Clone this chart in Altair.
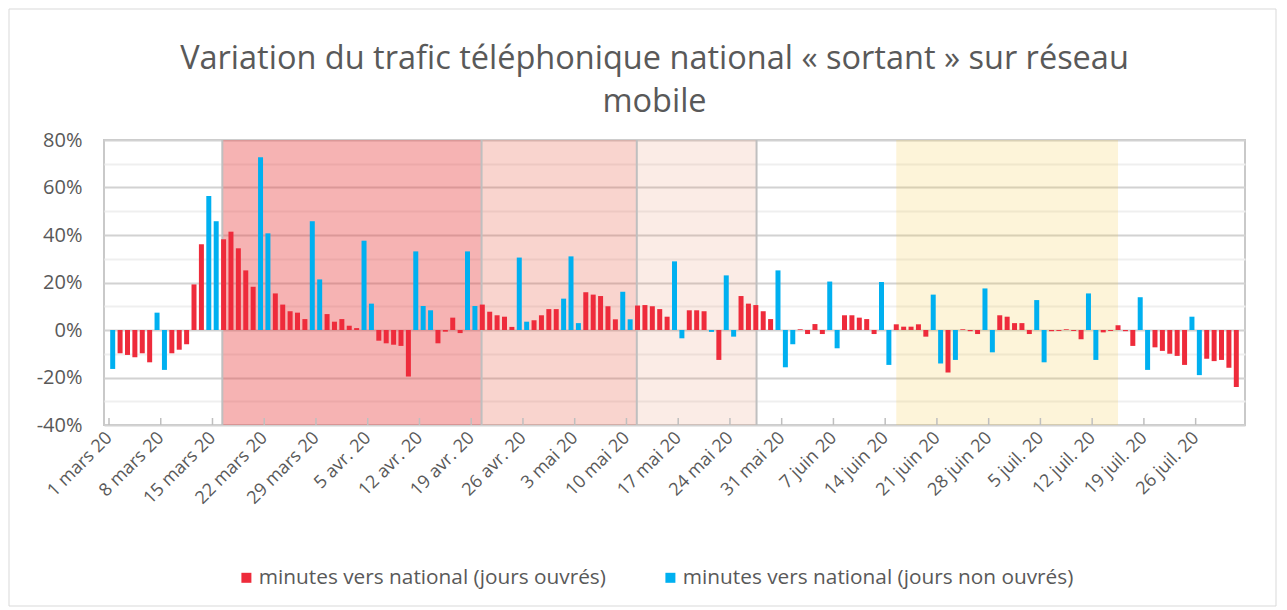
import json
import pandas as pd
import altair as alt

# ---- data (percent variation, one value per day from 1 March 2020) ----
values = [
    -16.4, -9.8, -10.5, -11.5, -9.8, -13.6, 7.3, -16.8, -9.8, -8.3,
    -6.0, 19.2, 36.1, 56.4, 45.8, 38.2, 41.4, 34.4, 25.1, 18.2,
    72.7, 40.7, 15.4, 10.7, 7.9, 7.3, 4.6, 45.8, 21.3, 6.7,
    3.5, 4.6, 1.8, 0.8, 37.6, 11.1, -4.5, -5.6, -6.2, -6.7,
    -19.6, 33.1, 10.1, 8.3, -5.6, -0.7, 5.2, -1.3, 33.1, 10.1,
    10.7, 7.7, 6.2, 5.6, 1.3, 30.5, 3.5, 4.1, 6.2, 8.8,
    8.8, 13.2, 31.0, 2.9, 15.9, 14.9, 14.3, 10.0, 4.5, 16.1,
    4.5, 10.3, 10.5, 10.0, 8.8, 5.6, 28.9, -3.5, 8.3, 8.3,
    7.9, -0.8, -12.6, 23.0, -2.8, 14.3, 11.1, 10.5, 7.9, 4.6,
    25.1, -15.7, -6.0, 0.3, -1.7, 2.5, -1.7, 20.4, -7.7, 6.2,
    6.2, 5.2, 4.6, -1.7, 20.2, -14.7, 2.4, 1.4, 1.4, 2.4,
    -2.8, 14.9, -14.1, -17.9, -12.6, 0.3, -0.5, -1.7, 17.5, -9.4,
    6.2, 5.6, 2.9, 2.9, -1.7, 12.6, -13.6, -0.5, -0.4, 0.3,
    -0.4, -3.9, 15.4, -12.6, -1.0, -0.4, 2.0, -0.5, -6.7, 13.8,
    -16.8, -7.3, -8.8, -10.0, -10.9, -14.7, 5.6, -19.0, -12.1, -13.1,
    -12.6, -15.9, -24.0,
]
# o = jour ouvré, n = jour non ouvré (10 days per chunk)
kinds = list(
    "nooooonnoo"
    "ooonnooooo"
    "nnooooonno"
    "oooonnoooo"
    "onnnoooonn"
    "ooooonnooo"
    "onnnooooon"
    "nooooonnoo"
    "ononnooooo"
    "nnnoooonno"
    "oooonnoooo"
    "onnonooonn"
    "ooooonnooo"
    "oonnooooon"
    "nooooonnoo"
    "ooo"
)
week_labels = [
    "1 mars 20", "8 mars 20", "15 mars 20", "22 mars 20", "29 mars 20",
    "5 avr. 20", "12 avr. 20", "19 avr. 20", "26 avr. 20", "3 mai 20",
    "10 mai 20", "17 mai 20", "24 mai 20", "31 mai 20", "7 juin 20",
    "14 juin 20", "21 juin 20", "28 juin 20", "5 juil. 20", "12 juil. 20",
    "19 juil. 20", "26 juil. 20",
]
series_names = [
    "minutes vers national (jours ouvrés)",
    "minutes vers national (jours non ouvrés)",
]
series_colors = ["#EE2B3B", "#00B0F0"]

# shaded periods (in days from 1 March)
band_start = [15.33, 50.4, 71.4, 106.5]
band_end = [50.4, 71.4, 87.6, 136.5]
band_fill = ["#E84141", "#E7533B", "#E48058", "#F5C841"]
band_opacity = [0.4, 0.25, 0.15, 0.2]
divider_x = [15.33, 50.4, 71.4, 87.6]

title_lines = ["Variation du trafic téléphonique national « sortant » sur réseau", "mobile"]

# ---- build tables ----
n_days = len(values)
df = pd.DataFrame({
    "day": list(range(n_days)),
    "v": values,
    "s": [series_names[0] if k == "o" else series_names[1] for k in kinds[:n_days]],
})
week_pos = [7 * k for k in range(len(week_labels))]
week_df = pd.DataFrame({"pos": week_pos})
band_df = pd.DataFrame({"start": band_start, "end": band_end, "fill": band_fill, "op": band_opacity})
div_df = pd.DataFrame({"x": divider_x})
frame_df = pd.DataFrame({"a": [1]})

W, H = 1141, 285
FONT = "Open Sans"
GREY = "#595959"
FRAME_TOP = -131

x_scale = alt.Scale(domain=[0, n_days], nice=False, zero=False)
y_scale = alt.Scale(domain=[-40, 80], nice=False)

label_expr = json.dumps(week_labels, ensure_ascii=False) + "[round(datum.value / 7)]"
x_axis = alt.Axis(
    values=week_pos, labelExpr=label_expr, labelAngle=-45, labelAlign="right",
    labelBaseline="middle", labelPadding=10, labelFontSize=18, labelFont=FONT,
    labelColor=GREY, grid=False, ticks=False, domain=False, title=None,
    labelOverlap=False, labelBound=False, labelFlush=False,
)

frame = alt.Chart(frame_df).mark_rect(fillOpacity=0, stroke="#d9d9d9", strokeWidth=1).encode(
    x=alt.value(-95), x2=alt.value(1172), y=alt.value(FRAME_TOP), y2=alt.value(466)
)

bands = alt.Chart(band_df).mark_rect().encode(
    x=alt.X("start:Q", scale=x_scale, axis=x_axis),
    x2="end:Q",
    fill=alt.Fill("fill:N", scale=None),
    opacity=alt.Opacity("op:Q", scale=None),
)

dividers = alt.Chart(div_df).mark_rule(color="#bfbfbf", strokeWidth=2).encode(
    x=alt.X("x:Q", scale=x_scale, axis=x_axis)
)

bars = alt.Chart(df).transform_calculate(xc="datum.day + 0.5").mark_bar(size=5).encode(
    x=alt.X("xc:Q", scale=x_scale, axis=x_axis),
    y=alt.Y(
        "v:Q",
        scale=y_scale,
        axis=alt.Axis(
            values=list(range(-40, 81, 10)),
            labelExpr="datum.value % 20 == 0 ? datum.value + '%' : ''",
            labelFontSize=20, labelFont=FONT, labelColor=GREY, labelPadding=22,
            ticks=False, domain=False, title=None,
            gridColor={"condition": {"test": "datum.value % 20 != 0", "value": "#efefef"}, "value": "#d2d2d2"},
            gridWidth=2,
        ),
    ),
    color=alt.Color(
        "s:N",
        scale=alt.Scale(domain=series_names, range=series_colors),
        legend=alt.Legend(
            orient="none", legendX=132, legendY=427, direction="horizontal", title=None,
            symbolType="square", symbolSize=100, symbolStrokeWidth=0,
            labelFontSize=20.8, labelFont=FONT, labelColor=GREY, columnPadding=54, labelOffset=2,
            labelLimit=600,
        ),
    ),
)

week_ticks = alt.Chart(week_df).mark_rule(color="#bfbfbf", strokeWidth=1.5).encode(
    x=alt.X("pos:Q", scale=x_scale, axis=x_axis),
    y=alt.value(H),
    y2=alt.value(H - 7),
)

chart = alt.layer(frame, bands, dividers, bars, week_ticks).properties(
    width=W,
    height=H,
    padding=0,
    title=alt.TitleParams(
        title_lines, fontSize=32.5, font=FONT, fontWeight="normal", color=GREY,
        anchor="middle", frame="group", dx=-20, offset=21 + FRAME_TOP, lineHeight=43,
    ),
).configure_view(stroke="#c9c9c9", strokeWidth=2)

chart.save("out.html", embed_options={"renderer": "svg", "actions": False})
